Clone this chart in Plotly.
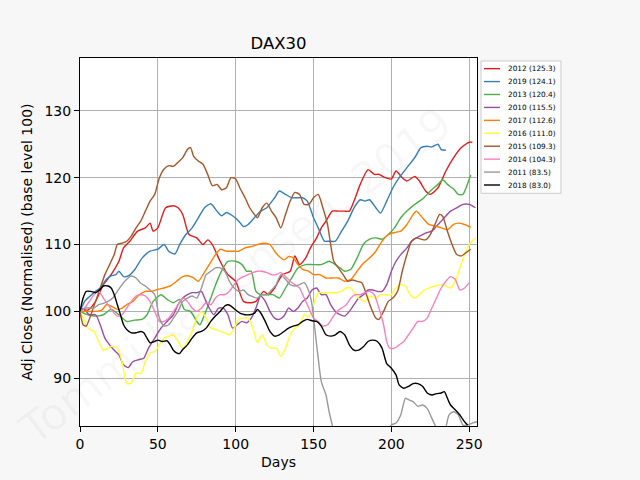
import plotly.graph_objects as go

# ---------------- data ----------------
series_names = ["2012 (125.3)", "2019 (124.1)", "2013 (120.4)", "2010 (115.5)", "2017 (112.6)",
                "2016 (111.0)", "2015 (109.3)", "2014 (104.3)", "2011 (83.5)", "2018 (83.0)"]
series_colors = ["#e41a1c", "#377eb8", "#4daf4a", "#984ea3", "#ff7f00",
                 "#ffff33", "#a65628", "#f781bf", "#999999", "#000000"]

days_2012 = [0, 5, 10, 15, 20, 25, 28, 32, 37, 42, 45, 47, 50, 55, 60, 63, 66, 70, 75, 79, 82, 85, 90, 95,
             100, 105, 110, 113, 118, 121, 125, 130, 135, 138, 141, 145, 148, 152, 155, 158, 162, 166, 170,
             173, 176, 180, 185, 189, 192, 196, 200, 203, 207, 210, 215, 218, 222, 225, 230, 235, 240, 245,
             250, 252]
vals_2012 = [100.5, 100.2, 101.5, 104, 105.5, 107.5, 109.5, 110.5, 112, 112.5, 113.2, 112, 112.5, 115.5,
             115.8, 115.5, 114.5, 111.5, 111, 110, 110.7, 110, 107.5, 105.5, 104.5, 101.5, 101.3, 101.5,
             103, 102.5, 103.5, 105.5, 106, 108.3, 107, 108, 109.5, 111, 112.5, 113.5, 115, 115, 115, 115,
             116.5, 119, 121.2, 120.5, 120.5, 120, 119.8, 121, 120, 119.5, 120.2, 119.5, 118, 117.5, 118.5,
             121, 123, 124.5, 125.3, 125.3]

days_2019 = [0, 3, 6, 10, 13, 17, 20, 23, 25, 28, 31, 35, 40, 45, 50, 54, 57, 61, 64, 68, 72, 76, 80, 84,
             88, 91, 94, 98, 102, 105, 108, 112, 116, 120, 125, 128, 132, 136, 139, 143, 146, 150, 153, 157,
             160, 164, 168, 172, 176, 180, 183, 186, 190, 193, 197, 201, 205, 210, 215, 219, 223, 226, 230,
             232, 235]
vals_2019 = [100, 101.5, 102.2, 103, 103.5, 104.8, 105.3, 105.5, 106, 105.2, 105.3, 106.2, 108, 109, 109.3,
             110, 109, 108.6, 110, 111.5, 112.5, 114, 115.5, 116.1, 115, 114.3, 114.8, 114.3, 113.5, 112.7,
             113, 114, 115, 115.5, 117, 118, 117.5, 117, 117, 117, 116.5, 114, 112.5, 110.5, 110.5, 110.5,
             112, 113.5, 115.5, 116.7, 116.5, 116.7, 115.5, 114.7, 116.5, 118.5, 120, 121.5, 123, 124.5,
             124.7, 124.6, 125, 124.2, 124.1]

days_2013 = [0, 5, 10, 15, 20, 25, 30, 35, 40, 43, 47, 52, 56, 60, 64, 67, 71, 75, 77, 80, 84, 88, 92, 95,
             100, 104, 107, 110, 113, 116, 120, 124, 128, 132, 136, 140, 145, 150, 155, 160, 164, 167, 170,
             174, 178, 182, 186, 190, 194, 198, 202, 206, 210, 215, 220, 225, 230, 233, 236, 240, 243, 246,
             248, 251]
vals_2013 = [100, 99.5, 99.3, 99.5, 100.3, 99.5, 98.5, 98.7, 98.8, 99.5, 101.5, 102.5, 101.8, 101.3, 101.8,
             100.3, 100, 98.5, 98, 99.5, 102, 104.5, 106.5, 107.5, 107.5, 107, 106, 106, 103, 102.5, 102.5,
             102.5, 102, 103.5, 105, 106.5, 107, 107, 107, 107.5, 107, 106.5, 106, 106.3, 108, 110, 110.8,
             111, 110.8, 111.5, 112.5, 114, 115, 116, 116.8, 118, 119, 119.7, 119, 118.3, 117.5, 117.5,
             118.5, 120.4]

days_2010 = [0, 3, 6, 10, 13, 16, 19, 22, 25, 28, 31, 34, 38, 41, 44, 48, 52, 56, 60, 63, 66, 69, 72, 75,
             78, 80, 83, 86, 89, 92, 95, 98, 101, 104, 107, 110, 113, 116, 119, 122, 125, 128, 131, 134,
             137, 140, 143, 146, 149, 152, 155, 158, 161, 164, 167, 170, 173, 176, 179, 182, 185, 188, 191,
             194, 197, 200, 203, 206, 210, 213, 216, 220, 223, 226, 230, 234, 238, 242, 246, 250, 254]
vals_2010 = [100.5, 100.2, 99.5, 99.5, 98, 96, 95, 94.2, 93.5, 92, 91.6, 92.5, 92.8, 93, 94.5, 96, 97.5,
             98.5, 99.5, 101, 102, 102.5, 102.8, 102.8, 103, 102, 100.5, 99.5, 100.5, 100.5, 99.5, 97.5,
             98, 98.5, 98.3, 99, 100.5, 102.3, 101.5, 100, 99, 98.8, 99.3, 100.5, 100, 100.5, 101.5, 102,
             103.2, 103.5, 102.5, 102.5, 101, 100, 99.5, 99.3, 100, 101, 102, 102.5, 103.2, 103.2, 103, 103,
             104, 106, 107.5, 108.5, 109.5, 110.5, 111, 111.5, 111.8, 112, 113, 114, 115, 115.5, 116, 116,
             115.5]

days_2017 = [0, 5, 10, 14, 17, 20, 24, 27, 30, 34, 38, 42, 46, 50, 54, 58, 62, 66, 70, 73, 76, 79, 83, 87,
             90, 94, 98, 102, 106, 110, 114, 118, 122, 125, 128, 131, 134, 137, 140, 143, 147, 150, 154,
             158, 162, 166, 170, 174, 178, 182, 186, 190, 194, 198, 202, 206, 210, 214, 216, 220, 224, 228,
             232, 236, 240, 243, 247, 251]
vals_2017 = [100, 100, 100, 100.2, 101, 100.8, 100.3, 100.5, 101, 101.5, 102.5, 103, 103, 103.3, 103.5,
             103.8, 104.5, 105.2, 105.3, 105, 104.5, 105.5, 107, 108.5, 109.3, 109, 109, 109, 109.5, 109.7,
             110, 110.2, 110, 109, 108.2, 107.7, 108.2, 108, 107, 106.3, 106, 105.5, 105.5, 105, 105, 105,
             104.5, 104.8, 106, 107.2, 108, 109, 110.5, 111.5, 111.8, 112, 113, 114.5, 115, 114, 113, 112.8,
             112.5, 112.2, 113, 113.2, 113, 112.6]

days_2016 = [0, 2, 5, 9, 12, 15, 18, 21, 24, 27, 30, 33, 36, 39, 42, 45, 48, 51, 54, 57, 60, 63, 66, 69,
             72, 75, 78, 81, 84, 87, 90, 93, 96, 99, 102, 105, 108, 111, 114, 117, 120, 123, 126, 129, 132,
             135, 138, 141, 144, 147, 150, 153, 156, 160, 164, 168, 171, 174, 177, 180, 183, 186, 190, 193,
             196, 200, 203, 206, 209, 212, 215, 218, 221, 224, 228, 232, 235, 238, 241, 244, 247, 250, 254]
vals_2016 = [100, 99, 97.5, 97, 95.5, 94.2, 94.5, 94.8, 94.5, 92.5, 89.2, 89.3, 90.8, 90.7, 92.5, 93.8,
             94, 95, 96, 96.3, 96.5, 95.5, 94.5, 95.5, 97, 99, 100, 99, 97.5, 97.3, 97, 96.8, 96.5, 97.5,
             98.8, 99, 99, 97.5, 95.3, 96.5, 95, 94.5, 94.5, 93.3, 94.5, 96.5, 97.5, 98, 99.5, 99.2, 101,
             102.8, 102.8, 102.8, 102.8, 103, 103.5, 103.5, 102.5, 101.8, 101.5, 102.3, 102, 102.5, 102.5,
             102.5, 103.5, 104, 103.8, 102.5, 102, 102.5, 103.2, 103.5, 103.8, 104, 103.8, 103.5, 104.5,
             106.5, 108.5, 110, 111]

days_2015 = [0, 2, 4, 7, 10, 13, 16, 19, 22, 24, 27, 30, 33, 36, 39, 42, 45, 48, 51, 54, 57, 60, 63, 66,
             69, 71, 73, 76, 79, 82, 85, 88, 91, 94, 97, 100, 103, 106, 109, 112, 114, 117, 120, 123, 126,
             129, 132, 135, 138, 141, 144, 147, 150, 153, 156, 159, 161, 163, 166, 169, 172, 175, 178, 181,
             184, 187, 190, 192, 195, 198, 201, 204, 207, 210, 213, 216, 219, 222, 225, 228, 231, 233, 236,
             239, 242, 245, 248, 251]
vals_2015 = [100, 98, 97.8, 99.5, 101.5, 103.5, 105.5, 107, 108.5, 110, 110.2, 110.5, 111.3, 112.5, 113.5,
             115, 116.5, 117.5, 120, 121.3, 121.8, 121.7, 122.3, 123, 124.2, 124.5, 123.2, 122.5, 122,
             120.5, 118.8, 119, 118.2, 118.5, 120, 119.8, 118.3, 117, 115.5, 114.5, 114, 115.5, 116.2, 115,
             114, 112.5, 114.5, 116.5, 117.8, 117.5, 116, 116, 117, 117.5, 115.5, 113, 110, 107.5, 106.5,
             105.5, 104.5, 104.7, 104.5, 104.3, 102.5, 100.5, 99, 98.8, 100, 101.5, 102, 103, 106, 108.5,
             110.5, 111, 110.8, 110.7, 111.5, 113, 114.5, 114.2, 112, 110, 108.5, 108.3, 108.8, 109.3]

days_2014 = [0, 3, 6, 9, 12, 15, 18, 21, 24, 27, 30, 33, 36, 39, 42, 45, 48, 51, 54, 57, 60, 63, 66, 69,
             72, 75, 78, 81, 84, 87, 90, 93, 96, 99, 102, 105, 108, 111, 114, 117, 120, 123, 126, 129, 132,
             135, 138, 141, 144, 147, 150, 153, 156, 159, 162, 165, 168, 171, 174, 177, 180, 183, 186, 189,
             192, 195, 197, 199, 202, 205, 208, 211, 214, 217, 220, 223, 226, 229, 232, 235, 238, 241, 244,
             247, 250]
vals_2014 = [100, 100.5, 101.5, 102.5, 103, 102, 101, 100, 99.3, 99.5, 100.5, 101.5, 102.3, 102.5, 102.3,
             101.5, 100, 98.5, 98.5, 99, 100, 101, 102, 101.5, 100.5, 100, 100.5, 101.3, 101, 102, 102.5,
             102.5, 103, 104, 104.8, 105.2, 105.5, 105.8, 106, 106, 105.8, 105.5, 105.5, 105.8, 105.2,
             104.5, 104, 103.5, 102, 100.5, 99, 98.5, 97.8, 98, 99, 100, 100.5, 101, 102, 102.5, 102.5,
             102.8, 103, 102.5, 100.5, 98, 95.5, 94.5, 94.5, 95, 95.5, 96.5, 97.5, 98.5, 98.5, 99, 100.5,
             102, 103.5, 104.5, 105.2, 104.8, 103.2, 103.5, 104.3]

days_2011 = [0, 3, 6, 9, 12, 15, 18, 21, 24, 27, 30, 33, 36, 39, 42, 45, 48, 51, 54, 57, 60, 63, 66, 69,
             72, 75, 78, 81, 84, 87, 90, 93, 96, 99, 102, 105, 108, 111, 114, 117, 120, 123, 126, 129, 132,
             135, 138, 141, 144, 147, 149, 151, 153, 155, 158, 160, 162, 164, 170, 176, 182, 188, 194, 200,
             203, 206, 209, 211, 214, 217, 220, 223, 226, 228, 230, 234, 237, 240, 243, 246, 249, 252, 255]
vals_2011 = [100, 100.5, 100.5, 100.5, 101, 101.2, 101.5, 102, 103, 104, 104.8, 105.3, 105, 104.2, 103.8,
             103.2, 102.5, 99, 97.8, 98, 99, 100, 101.5, 102, 102.3, 102, 103.5, 105.5, 106, 106.5, 106.5,
             106, 104.5, 103.5, 103, 103.2, 102.5, 102.2, 102, 102.5, 102.5, 103.2, 104, 105.5, 104.8, 104,
             103.8, 104, 104.3, 103, 101, 97, 93, 89.5, 87.5, 85, 83, 80, 78, 77, 78, 79.5, 81, 83, 83.3,
             84.5, 87, 86.8, 86.5, 85.8, 86, 85.5, 84, 83, 82, 82, 84.5, 85, 84.5, 83, 83, 83.3, 83.5]

days_2018 = [0, 2, 4, 7, 10, 13, 15, 18, 20, 22, 24, 26, 28, 30, 33, 36, 39, 41, 43, 45, 48, 50, 53, 56,
             58, 60, 62, 64, 66, 69, 72, 75, 78, 81, 84, 87, 90, 93, 95, 97, 100, 103, 106, 109, 112, 114,
             116, 119, 122, 125, 128, 131, 134, 137, 140, 143, 146, 149, 152, 155, 158, 161, 164, 167, 170,
             173, 176, 179, 182, 185, 188, 191, 194, 197, 200, 203, 205, 208, 211, 214, 217, 220, 223, 226,
             229, 232, 234, 236, 238, 241, 244, 247, 249]
vals_2018 = [100, 102, 103, 103, 102.8, 103.3, 103.8, 103.8, 103.5, 102.5, 101, 99.5, 98, 97.3, 96.8,
             96.8, 97, 96.8, 96, 95.3, 95.5, 95.7, 95.5, 95.6, 95, 94.2, 93.8, 93.7, 94.3, 95, 96, 96.8,
             97, 97.5, 98.5, 99.3, 100, 100.8, 101, 100.8, 100.2, 99.7, 99.5, 99.5, 99.7, 100.3, 99.8, 98.5,
             97, 96.3, 96.5, 97, 97.5, 97.8, 98, 98.5, 98.8, 98.6, 98.5, 97.8, 96.5, 96.3, 96.5, 97, 96.5,
             95, 94.2, 94.2, 94.7, 95.5, 95.7, 95.5, 94.5, 92.2, 91.5, 90.5, 89, 88.5, 88.8, 89.2, 89.2,
             88.8, 87.8, 87.5, 87.7, 87.8, 88, 87, 86, 85.3, 84.5, 83.5, 83]

series_days = [days_2012, days_2019, days_2013, days_2010, days_2017,
               days_2016, days_2015, days_2014, days_2011, days_2018]
series_vals = [vals_2012, vals_2019, vals_2013, vals_2010, vals_2017,
               vals_2016, vals_2015, vals_2014, vals_2011, vals_2018]

x_ticks = [0, 50, 100, 150, 200, 250]
y_ticks = [90, 100, 110, 120, 130]

# ---------------- layout geometry ----------------
W, H = 640, 480
L, R, T, B = 80, 477, 58, 428   # plot area in pixels


def px_x(p):
    return (p - L) / (R - L)


def px_y(p):
    return (B - p) / (B - T)


fig = go.Figure()
for name, color, xs, ys in zip(series_names, series_colors, series_days, series_vals):
    fig.add_trace(go.Scatter(x=xs, y=ys, mode="lines", name=name,
                             line=dict(color=color, width=1.4, shape="spline", smoothing=0.6),
                             showlegend=False))

axis_common = dict(showline=True, linecolor="black", linewidth=1, mirror=True,
                   ticks="outside", ticklen=5, tickcolor="black", tickwidth=1,
                   showgrid=True, gridcolor="#b0b0b0", gridwidth=1, zeroline=False,
                   tickfont=dict(family="DejaVu Sans", size=14, color="black"))

fig.update_xaxes(range=[0, 255], tickvals=x_ticks, ticktext=[str(v) for v in x_ticks],
                 title=dict(text="Days", font=dict(family="DejaVu Sans", size=14, color="black"),
                            standoff=6),
                 **axis_common)
fig.update_yaxes(range=[82.86, 137.9], tickvals=y_ticks, ticktext=[str(v) for v in y_ticks],
                 title=dict(text="Adj Close (Normalised) (base level 100)",
                            font=dict(family="DejaVu Sans", size=14, color="black"), standoff=8),
                 **axis_common)

# ---------------- manual legend (matplotlib-like compact legend) ----------------
shapes = []
annotations = []
shapes.append(dict(type="rect", xref="paper", yref="paper",
                   x0=px_x(481), x1=px_x(561), y0=px_y(194), y1=px_y(61),
                   fillcolor="rgba(255,255,255,0.8)", line=dict(color="#cccccc", width=1)))
for i, (name, color) in enumerate(zip(series_names, series_colors)):
    yc = 68.7 + 13 * i
    shapes.append(dict(type="line", xref="paper", yref="paper",
                       x0=px_x(484), x1=px_x(500), y0=px_y(yc), y1=px_y(yc),
                       line=dict(color=color, width=1.4)))
    annotations.append(dict(xref="paper", yref="paper", x=px_x(506), y=px_y(yc),
                            text=name, showarrow=False, xanchor="left", yanchor="middle",
                            font=dict(family="DejaVu Sans", size=7.3, color="black")))

# faint watermark
annotations.append(dict(xref="paper", yref="paper", x=px_x(235), y=px_y(278),
                        text="Tommi Kastensen, 2019", showarrow=False, textangle=-37,
                        font=dict(family="DejaVu Sans", size=44, color="rgba(0,0,0,0.035)")))

fig.update_layout(
    width=W, height=H,
    margin=dict(l=L, r=W - R, t=T, b=H - B),
    paper_bgcolor="#f7f7f7", plot_bgcolor="white",
    title=dict(text="DAX30", x=(L + R) / 2 / W, xanchor="center",
               y=1 - 43 / H, yanchor="middle", yref="container",
               font=dict(family="DejaVu Sans", size=16.5, color="black")),
    shapes=shapes, annotations=annotations,
    showlegend=False,
)

fig.write_html("out.html")
